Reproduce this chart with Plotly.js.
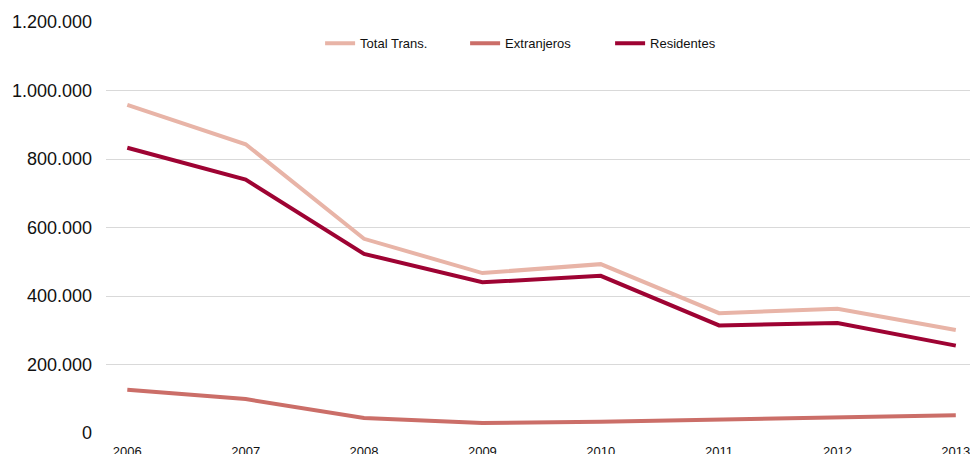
<!DOCTYPE html>
<html>
<head>
<meta charset="utf-8">
<script src="https://cdn.plot.ly/plotly-3.0.1.min.js"></script>
<style>
  html, body { margin: 0; padding: 0; background: #ffffff; }
  #chart { width: 970px; height: 454px; }
</style>
</head>
<body>
<div id="chart"></div>
<script>
// Transacciones inmobiliarias por año
const years = [2006, 2007, 2008, 2009, 2010, 2011, 2012, 2013];
const totalTrans = [958000, 843000, 567000, 467000, 493000, 350000, 363000, 301000];
const extranjeros = [126000, 99000, 44000, 29000, 33000, 39000, 47000, 52000];
const residentes = [833000, 740000, 523000, 440000, 459000, 314000, 321000, 255000];
const yTicks = [0, 200000, 400000, 600000, 800000, 1000000, 1200000];

const font = 'Liberation Sans, Arial, sans-serif';

function serie(name, values, color) {
  return {
    type: 'scatter',
    mode: 'lines',
    name: name,
    x: years,
    y: values,
    line: { color: color, width: 4 },
    hoverinfo: 'x+y+name'
  };
}

const data = [
  serie('Total Trans.', totalTrans, '#E8B4A7'),
  serie('Extranjeros', extranjeros, '#CB6E68'),
  serie('Residentes', residentes, '#9E0333')
];

const layout = {
  width: 970,
  height: 454,
  margin: { l: 106, r: 0, t: 22, b: 21 },
  paper_bgcolor: '#ffffff',
  plot_bgcolor: '#ffffff',
  separators: ',.',
  font: { family: font, color: '#111111' },
  showlegend: true,
  legend: {
    orientation: 'h',
    x: 0.2478,
    xanchor: 'left',
    y: 0.948,
    yanchor: 'middle',
    bgcolor: 'rgba(0,0,0,0)',
    font: { family: font, size: 13, color: '#111111' },
    entrywidth: 100,
    entrywidthmode: 'pixels',
    traceorder: 'normal'
  },
  xaxis: {
    type: 'linear',
    range: [2005.82, 2013.12],
    tickmode: 'array',
    tickvals: years,
    ticktext: years.map(String),
    showgrid: false,
    zeroline: false,
    showline: false,
    ticks: '',
    ticklabelstandoff: 9,
    ticklabeloverflow: 'allow',
    tickfont: { family: font, size: 13, color: '#111111' },
    fixedrange: true
  },
  yaxis: {
    range: [0, 1200000],
    tickmode: 'array',
    tickvals: yTicks,
    tickformat: ',d',
    showgrid: true,
    gridcolor: '#D9D9D9',
    gridwidth: 1,
    zeroline: false,
    showline: false,
    ticks: '',
    ticklabelstandoff: 13,
    tickfont: { family: font, size: 18, color: '#111111' },
    fixedrange: true
  }
};

Plotly.newPlot('chart', data, layout, { displayModeBar: false, staticPlot: true });
</script>
</body>
</html>
